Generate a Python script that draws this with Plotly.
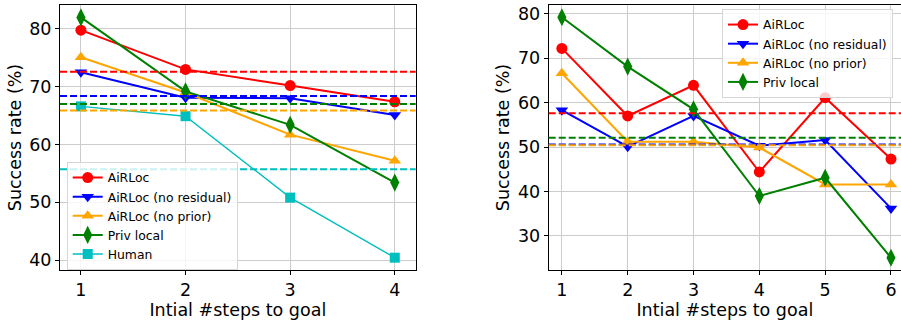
import plotly.graph_objects as go

# ---- data ----
steps_left = [1, 2, 3, 4]
left_airloc = [79.8, 73.0, 70.2, 67.4]
left_nores = [72.5, 68.1, 68.0, 65.1]
left_noprior = [75.1, 69.0, 61.7, 57.2]
left_priv = [82.0, 69.2, 63.4, 53.4]
left_human = [66.6, 64.9, 50.8, 40.4]
left_means = {"AiRLoc": 72.6, "AiRLoc (no residual)": 68.4,
              "AiRLoc (no prior)": 65.9, "Priv local": 67.0, "Human": 55.7}

steps_right = [1, 2, 3, 4, 5, 6]
right_airloc = [72.2, 57.0, 63.9, 44.4, 61.1, 47.3]
right_nores = [58.3, 50.1, 57.0, 50.3, 51.6, 36.2]
right_noprior = [66.6, 51.2, 51.2, 49.9, 41.6, 41.6]
right_priv = [79.2, 68.1, 58.5, 39.0, 43.1, 25.1]
right_means = {"AiRLoc": 57.6, "AiRLoc (no residual)": 50.6,
               "AiRLoc (no prior)": 50.4, "Priv local": 52.1}

names = ["AiRLoc", "AiRLoc (no residual)", "AiRLoc (no prior)", "Priv local", "Human"]
colors = {"AiRLoc": "#ff0000", "AiRLoc (no residual)": "#0000ff",
          "AiRLoc (no prior)": "#ffa500", "Priv local": "#008000", "Human": "#00bfbf"}
symbols = {"AiRLoc": "circle", "AiRLoc (no residual)": "triangle-down",
           "AiRLoc (no prior)": "triangle-up", "Priv local": "diamond-tall", "Human": "square"}
msize = {"AiRLoc": 11, "AiRLoc (no residual)": 11, "AiRLoc (no prior)": 11,
         "Priv local": 13, "Human": 10}
lwidth = {"AiRLoc": 2, "AiRLoc (no residual)": 2, "AiRLoc (no prior)": 2,
          "Priv local": 2, "Human": 1.4}

FONT = "DejaVu Sans"
fig = go.Figure()

left_series = [left_airloc, left_nores, left_noprior, left_priv, left_human]
for n, ys in zip(names, left_series):
    fig.add_trace(go.Scatter(x=steps_left, y=ys, name=n, mode="lines+markers",
                             line=dict(color=colors[n], width=lwidth[n]),
                             marker=dict(color=colors[n], symbol=symbols[n], size=msize[n]),
                             xaxis="x", yaxis="y", legend="legend", cliponaxis=False))
right_series = [right_airloc, right_nores, right_noprior, right_priv]
for n, ys in zip(names[:4], right_series):
    fig.add_trace(go.Scatter(x=steps_right, y=ys, name=n, mode="lines+markers",
                             line=dict(color=colors[n], width=lwidth[n]),
                             marker=dict(color=colors[n], symbol=symbols[n], size=msize[n]),
                             xaxis="x2", yaxis="y2", legend="legend2", cliponaxis=False))

shapes = []
for n, v in left_means.items():
    shapes.append(dict(type="line", xref="x domain", yref="y", x0=0, x1=1, y0=v, y1=v,
                       line=dict(color=colors[n], width=2, dash="7px,3px")))
for n, v in right_means.items():
    shapes.append(dict(type="line", xref="x2 domain", yref="y2", x0=0, x1=1, y0=v, y1=v,
                       line=dict(color=colors[n], width=2, dash="7px,3px")))

axfont = dict(family=FONT, size=17.5, color="#000")
common_x = dict(showgrid=True, gridcolor="#cccccc", gridwidth=1, ticks="outside", ticklen=4,
                tickcolor="#000", showline=True, linecolor="#000", linewidth=1,
                zeroline=False, tickfont=axfont, automargin=False,
                title=dict(text="Intial #steps to goal", font=axfont, standoff=0))
common_y = dict(showgrid=True, gridcolor="#cccccc", gridwidth=1, ticks="outside", ticklen=4,
                tickcolor="#000", showline=True, linecolor="#000", linewidth=1,
                zeroline=False, tickfont=axfont, dtick=10, automargin=False,
                title=dict(text="Success rate (%)", font=axfont, standoff=3))

ydom = [50 / 320, 315 / 320]
legfont = dict(family=FONT, size=12.4, color="#000")
fig.update_layout(
    width=901, height=320, margin=dict(l=0, r=0, t=0, b=0),
    paper_bgcolor="white", plot_bgcolor="white",
    font=dict(family=FONT),
    xaxis=dict(common_x, domain=[60 / 901, 415.7 / 901], range=[0.8, 4.2],
               tickvals=steps_left, mirror=True, anchor="y"),
    yaxis=dict(common_y, domain=ydom, range=[38.27, 84.15], mirror=True, anchor="x"),
    xaxis2=dict(common_x, domain=[548.7 / 901, 1.0], range=[0.8, 6.152],
                tickvals=steps_right, mirror=True, anchor="y2"),
    yaxis2=dict(common_y, domain=ydom, range=[22.35, 81.96], anchor="x2"),
    shapes=shapes,
    legend=dict(x=66.7 / 901, y=1 - 162 / 320, xanchor="left", yanchor="top",
                bgcolor="rgba(255,255,255,0.8)", bordercolor="#d6d6d6", borderwidth=1,
                font=legfont, itemwidth=30, tracegroupgap=0),
    legend2=dict(x=722 / 901, y=1 - 9 / 320, xanchor="left", yanchor="top",
                 bgcolor="rgba(255,255,255,0.8)", bordercolor="#d6d6d6", borderwidth=1,
                 font=legfont, itemwidth=30, tracegroupgap=0),
)
fig.write_html("out.html", config={"displayModeBar": False},
               post_script="document.body.style.margin='0';document.body.style.overflow='hidden';")
